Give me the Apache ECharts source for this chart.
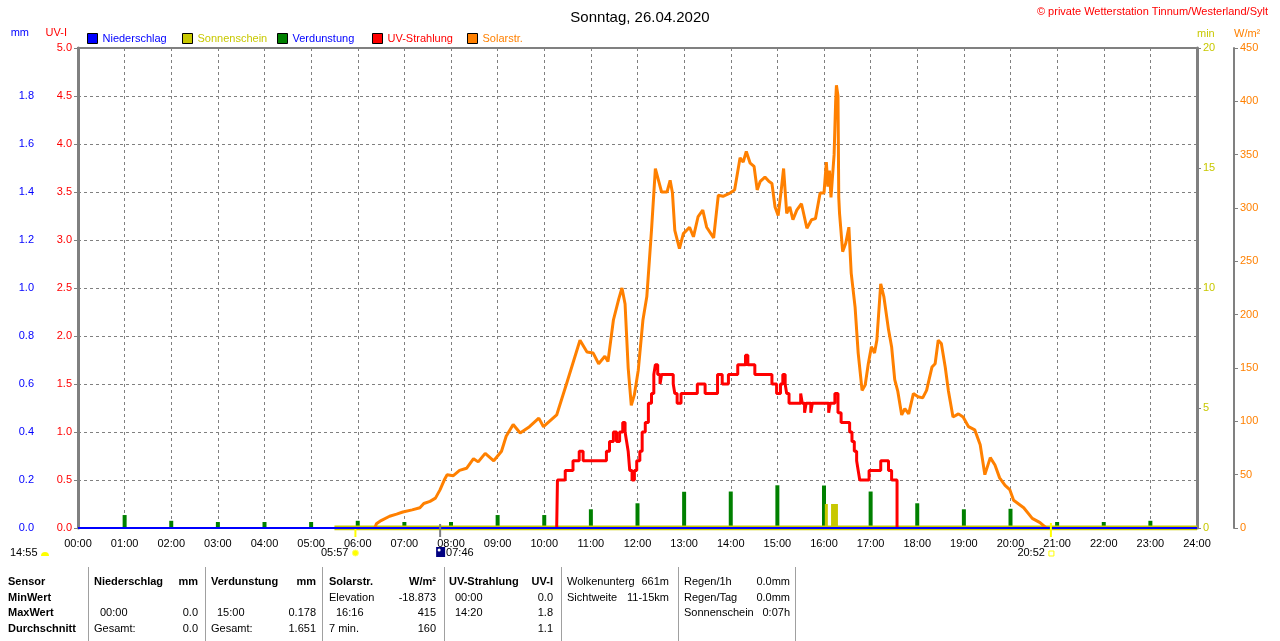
<!DOCTYPE html>
<html>
<head>
<meta charset="utf-8">
<title>Sonntag, 26.04.2020</title>
<style type="text/css">
body{margin:0;background:#fff;}
#main{width:1280px;height:641px;}
</style>
</head>
<body>
<div id="main"></div>
<script src="https://cdn.jsdelivr.net/npm/echarts@6.0.0/dist/echarts.min.js" type="text/javascript" charset="utf-8"></script>
<script type="text/javascript">
// tick labels of the time axis
var tickLabels = ['00:00','01:00','02:00','03:00','04:00','05:00','06:00','07:00','08:00','09:00','10:00','11:00','12:00',
	'13:00','14:00','15:00','16:00','17:00','18:00','19:00','20:00','21:00','22:00','23:00','24:00'];

// Solarstrahlung W/m2  [Uhrzeit, Wert]
var solarData = [
	['06:22',0],['06:24',4],['06:30',7],['06:41',11],['06:50',13],['06:58',15],['07:10',17],['07:20',19],['07:25',23],
	['07:33',25],['07:40',28],['07:46',36],['07:52',46],['07:55',50],['08:03',49],['08:11',54],['08:20',56],['08:29',65],
	['08:35',62],['08:44',70],['08:55',63],['09:05',72],['09:11',86],['09:20',97],['09:29',89],['09:41',95],['09:53',103],
	['09:59',95],['10:16',106],['10:29',136],['10:46',176],['10:55',165],['11:03',164],['11:10',154],['11:18',161],
	['11:22',156],['11:29',195],['11:36',215],['11:40',225],['11:44',210],['11:48',150],['11:52',115],['11:56',125],
	['12:01',148],['12:07',195],['12:12',217],['12:18',279],['12:23',337],['12:27',326],['12:31',315],['12:38',315],
	['12:42',326],['12:45',314],['12:48',279],['12:54',262],['12:59',276],['13:07',282],['13:12',273],['13:18',292],
	['13:24',298],['13:29',282],['13:38',272],['13:44',312],['13:50',311],['13:59',314],['14:05',317],['14:12',347],
	['14:16',343],['14:20',353],['14:25',342],['14:30',339],['14:34',317],['14:38',325],['14:44',329],['14:49',325],
	['14:53',323],['14:57',301],['15:01',293],['15:05',317],['15:08',337],['15:12',295],['15:16',301],['15:20',289],
	['15:25',298],['15:31',304],['15:38',281],['15:44',289],['15:49',290],['15:55',314],['16:00',314],['16:03',343],
	['16:05',320],['16:07',335],['16:09',310],['16:11',330],['16:13',350],['16:15',400],['16:16',415],['16:18',405],
	['16:19',310],['16:20',295],['16:24',259],['16:28',267],['16:32',282],['16:35',239],['16:40',207],['16:44',164],
	['16:49',129],['16:53',134],['16:57',154],['17:01',170],['17:05',164],['17:08',176],['17:13',229],['17:17',217],
	['17:23',186],['17:27',170],['17:31',139],['17:35',128],['17:40',106],['17:44',112],['17:49',107],['17:55',126],
	['18:01',123],['18:07',122],['18:12',129],['18:19',151],['18:23',154],['18:27',176],['18:31',173],['18:36',151],
	['18:40',129],['18:46',104],['18:53',107],['18:59',104],['19:06',95],['19:14',92],['19:21',78],['19:27',50],
	['19:34',66],['19:40',59],['19:46',47],['19:53',40],['19:59',36],['20:04',26],['20:17',19],['20:28',9],
	['20:38',5],['20:46',0]
];

// UV-Strahlung UV-I, Stufen  [ab Uhrzeit, Wert]
var uvData = [
	['10:16',0],['10:17',0.5],['10:27',0.6],['10:37',0.7],['10:45',0.8],['10:50',0.7],['11:20',0.8],['11:24',0.9],
	['11:29',1.0],['11:33',0.9],['11:37',1.0],['11:41',1.1],['11:44',1.0],['11:46',0.9],['11:48',0.8],['11:50',0.6],
	['11:53',0.5],['11:56',0.6],['11:59',0.7],['12:03',0.8],['12:06',1.0],['12:10',1.1],['12:14',1.3],['12:18',1.4],
	['12:21',1.6],['12:23',1.7],['12:26',1.6],['12:29',1.5],['12:31',1.6],['12:46',1.5],['12:48',1.4],['12:51',1.3],
	['12:56',1.4],['13:17',1.5],['13:27',1.4],['13:43',1.6],['13:49',1.5],['13:57',1.6],['14:09',1.7],['14:19',1.8],
	['14:22',1.7],['14:31',1.6],['14:53',1.5],['14:59',1.4],['15:04',1.5],['15:07',1.6],['15:10',1.5],['15:12',1.4],
	['15:15',1.3],['15:30',1.4],['15:32',1.3],['15:35',1.2],['15:37',1.3],['15:43',1.2],['15:45',1.3],['16:06',1.2],
	['16:08',1.3],['16:14',1.4],['16:18',1.2],['16:22',1.1],['16:33',1.0],['16:36',0.9],['16:39',0.8],['16:42',0.7],
	['16:44',0.6],['16:46',0.5],['16:58',0.6],['17:13',0.7],['17:23',0.6],['17:27',0.5],['17:34',0]
];

// Verdunstung mm, stuendlich
var evapHours = ['01:00','02:00','03:00','04:00','05:00','06:00','07:00','08:00','09:00','10:00','11:00','12:00',
	'13:00','14:00','15:00','16:00','17:00','18:00','19:00','20:00','21:00','22:00','23:00'];
var evapValues = [0.054,0.030,0.025,0.025,0.025,0.030,0.025,0.025,0.054,0.054,0.078,0.103,
	0.151,0.152,0.178,0.177,0.152,0.103,0.078,0.080,0.025,0.025,0.030];

// Niederschlag mm (kein Regen)
var rainTimes = ['00:00','24:00'];
var rainValues = [0, 0];

// Sonnenschein min
var sunLineTimes = ['05:30','24:00'];
var sunLineValues = [0, 0];
var sunBarTimes = ['16:03','16:11','16:12','16:13','16:14','16:15','16:16'];
var sunBarValues = [1, 1, 1, 1, 1, 1, 1];

// Mond / Sonne
var moonText = '14:55';
var sunriseTime = '05:57';
var moonTime = '07:46';
var sunsetTime = '20:52';

function toHours(s){
	var p = s.split(':');
	return Number(p[0]) + Number(p[1]) / 60;
}
function fromPairs(list){
	return list.map(function(d){ return [toHours(d[0]), d[1]]; });
}
function zip(times, values){
	return times.map(function(t, i){ return [toHours(t), values[i]]; });
}

var FONT = 'Liberation Sans';
var GRAY = '#808080';
var BLUE = '#0000ff', OLIVE = '#c8c800', GREEN = '#008000', RED = '#ff0000', ORANGE = '#ff8000';

var chartDom = document.getElementById('main');
var myChart = echarts.init(chartDom);

function legendAt(name, left, iconColor, textColor){
	return {
		data: [name], left: left, top: 33, padding: 0, itemWidth: 10, itemHeight: 10, icon: 'rect',
		itemStyle: {color: iconColor, borderColor: '#000', borderWidth: 1},
		textStyle: {color: textColor, fontSize: 11, fontFamily: FONT}
	};
}

var option = {
	animation: false,
	textStyle: {fontFamily: FONT},
	title: {
		text: 'Sonntag, 26.04.2020', left: 'center', top: 5,
		textStyle: {fontSize: 15, fontWeight: 'normal', color: '#000', fontFamily: FONT}
	},
	legend: [
		legendAt('Niederschlag', 87, BLUE, BLUE),
		legendAt('Sonnenschein', 182, OLIVE, OLIVE),
		legendAt('Verdunstung', 277, GREEN, BLUE),
		legendAt('UV-Strahlung', 372, RED, RED),
		legendAt('Solarstr.', 467, ORANGE, ORANGE)
	],
	grid: {
		left: 78, right: 83, top: 48, bottom: 113,
		show: true, borderColor: GRAY, borderWidth: 2, outerBoundsMode: 'none'
	},
	xAxis: [{
		type: 'value', min: 0, max: 24, interval: 1,
		axisLine: {lineStyle: {color: GRAY, width: 2}},
		axisTick: {show: false},
		axisLabel: {
			color: '#000', fontSize: 11, margin: 10,
			formatter: function(v){ return tickLabels[v]; }
		},
		splitLine: {show: true, lineStyle: {color: GRAY, type: [3, 3], width: 1}}
	}, {
		type: 'value', min: 0, max: 24, show: false
	}],
	yAxis: [{
		// mm
		type: 'value', min: 0, max: 2, interval: 0.2, position: 'left', offset: 37,
		axisLine: {show: true, lineStyle: {color: GRAY, width: 2}},
		axisTick: {show: true, length: 4, lineStyle: {color: GRAY}},
		axisLabel: {color: BLUE, fontSize: 11, margin: 7, showMaxLabel: false,
			formatter: function(v){ return v.toFixed(1); }},
		splitLine: {show: false}
	}, {
		// UV-I
		type: 'value', min: 0, max: 5, interval: 0.5, position: 'left', offset: 0,
		axisLine: {show: true, lineStyle: {color: GRAY, width: 3}},
		axisTick: {show: true, length: 4, lineStyle: {color: GRAY}},
		axisLabel: {color: RED, fontSize: 11, margin: 6,
			formatter: function(v){ return v.toFixed(1); }},
		splitLine: {show: true, lineStyle: {color: GRAY, type: [3, 3], width: 1}}
	}, {
		// min
		type: 'value', min: 0, max: 20, interval: 5, position: 'right', offset: 0,
		name: 'min', nameLocation: 'end', nameGap: 9,
		nameTextStyle: {color: OLIVE, fontSize: 11, align: 'left', verticalAlign: 'bottom'},
		axisLine: {show: true, lineStyle: {color: GRAY, width: 3}},
		axisTick: {show: true, length: 4, lineStyle: {color: GRAY}},
		axisLabel: {color: OLIVE, fontSize: 11, margin: 6},
		splitLine: {show: false}
	}, {
		// W/m2
		type: 'value', min: 0, max: 450, interval: 50, position: 'right', offset: 37,
		name: 'W/m²', nameLocation: 'end', nameGap: 9,
		nameTextStyle: {color: ORANGE, fontSize: 11, align: 'left', verticalAlign: 'bottom'},
		axisLine: {show: true, lineStyle: {color: GRAY, width: 2}},
		axisTick: {show: true, length: 4, lineStyle: {color: GRAY}},
		axisLabel: {color: ORANGE, fontSize: 11, margin: 6},
		splitLine: {show: false}
	}],
	series: [{
		name: 'Sonnenschein', type: 'line', yAxisIndex: 2,
		data: zip(sunLineTimes, sunLineValues),
		symbol: 'none', lineStyle: {color: OLIVE, width: 5}, itemStyle: {color: OLIVE}
	}, {
		name: 'Verdunstung', type: 'bar', yAxisIndex: 0, barWidth: 4,
		data: zip(evapHours, evapValues),
		itemStyle: {color: GREEN}
	}, {
		name: 'Sonnenschein', type: 'bar', xAxisIndex: 1, yAxisIndex: 2, barWidth: 3,
		data: zip(sunBarTimes, sunBarValues),
		itemStyle: {color: OLIVE}
	}, {
		name: 'Solarstr.', type: 'line', yAxisIndex: 3,
		data: fromPairs(solarData),
		symbol: 'none', lineStyle: {color: ORANGE, width: 3}, itemStyle: {color: ORANGE}
	}, {
		name: 'UV-Strahlung', type: 'line', yAxisIndex: 1, step: 'end',
		data: fromPairs(uvData),
		symbol: 'none', lineStyle: {color: RED, width: 3}, itemStyle: {color: RED}
	}, {
		name: 'Niederschlag', type: 'line', yAxisIndex: 0,
		data: zip(rainTimes, rainValues),
		symbol: 'none', lineStyle: {color: BLUE, width: 2}, itemStyle: {color: BLUE}
	}]
};

myChart.setOption(option);

// Texte, Tabelle und Markierungen unter dem Diagramm
var g = [];
function txt(s, x, y, opt){
	opt = opt || {};
	g.push({
		type: 'text', x: x, y: y, z: 50,
		style: {
			text: s, fill: opt.color || '#000', align: opt.align || 'left', verticalAlign: 'middle',
			font: (opt.bold ? 'bold ' : '') + (opt.size || 11) + 'px "' + FONT + '"'
		}
	});
}
function vline(x, y1, y2, color, w){
	g.push({type: 'line', z: 50, shape: {x1: x, y1: y1, x2: x, y2: y2}, style: {stroke: color, lineWidth: w}});
}

txt('© private Wetterstation Tinnum/Westerland/Sylt', 1268, 12, {color: RED, align: 'right'});

// Einheiten der linken Achsen
txt('mm', 29, 33, {color: BLUE, align: 'right'});
txt('UV-I', 67, 33, {color: RED, align: 'right'});

var xRise = myChart.convertToPixel({xAxisIndex: 0}, toHours(sunriseTime));
var xMoon = myChart.convertToPixel({xAxisIndex: 0}, toHours(moonTime));
var xSet = myChart.convertToPixel({xAxisIndex: 0}, toHours(sunsetTime));

vline(xRise, 529, 537, '#ffff00', 2);
vline(xMoon, 524, 537, GRAY, 2);
vline(xSet, 523, 537, '#ffff00', 2);

txt(moonText, 10, 553);
g.push({type: 'sector', z: 50, shape: {cx: 45, cy: 556, r: 4, startAngle: Math.PI, endAngle: 2 * Math.PI},
	style: {fill: '#ffff00'}});
txt(sunriseTime, xRise - 7, 553, {align: 'right'});
g.push({type: 'circle', z: 50, shape: {cx: xRise, cy: 553, r: 3}, style: {fill: '#ffff00', stroke: '#ffff66', lineWidth: 1}});
g.push({type: 'rect', z: 50, shape: {x: xMoon - 4, y: 547, width: 9, height: 10}, style: {fill: '#000080'}});
g.push({type: 'circle', z: 51, shape: {cx: xMoon - 1, cy: 550, r: 1.5}, style: {fill: '#ffffff'}});
txt(moonTime, xMoon + 6, 553);
txt(sunsetTime, xSet - 6, 553, {align: 'right'});
g.push({type: 'rect', z: 50, shape: {x: xSet - 2, y: 551, width: 5, height: 5}, style: {fill: 'none', stroke: '#ffff00', lineWidth: 1}});

// Tabelle
var r0 = 582, r1 = 598, r2 = 613, r3 = 629;
[88, 205, 322, 444, 561, 678, 795].forEach(function(x){ vline(x + 0.5, 567, 641, '#a0a0a0', 1); });
txt('Sensor', 8, r0, {bold: true});
txt('MinWert', 8, r1, {bold: true});
txt('MaxWert', 8, r2, {bold: true});
txt('Durchschnitt', 8, r3, {bold: true});

txt('Niederschlag', 94, r0, {bold: true});
txt('mm', 198, r0, {bold: true, align: 'right'});
txt('00:00', 100, r2);
txt('0.0', 198, r2, {align: 'right'});
txt('Gesamt:', 94, r3);
txt('0.0', 198, r3, {align: 'right'});

txt('Verdunstung', 211, r0, {bold: true});
txt('mm', 316, r0, {bold: true, align: 'right'});
txt('15:00', 217, r2);
txt('0.178', 316, r2, {align: 'right'});
txt('Gesamt:', 211, r3);
txt('1.651', 316, r3, {align: 'right'});

txt('Solarstr.', 329, r0, {bold: true});
txt('W/m²', 436, r0, {bold: true, align: 'right'});
txt('Elevation', 329, r1);
txt('-18.873', 436, r1, {align: 'right'});
txt('16:16', 336, r2);
txt('415', 436, r2, {align: 'right'});
txt('7 min.', 329, r3);
txt('160', 436, r3, {align: 'right'});

txt('UV-Strahlung', 449, r0, {bold: true});
txt('UV-I', 553, r0, {bold: true, align: 'right'});
txt('00:00', 455, r1);
txt('0.0', 553, r1, {align: 'right'});
txt('14:20', 455, r2);
txt('1.8', 553, r2, {align: 'right'});
txt('1.1', 553, r3, {align: 'right'});

txt('Wolkenunterg', 567, r0);
txt('661m', 669, r0, {align: 'right'});
txt('Sichtweite', 567, r1);
txt('11-15km', 669, r1, {align: 'right'});

txt('Regen/1h', 684, r0);
txt('0.0mm', 790, r0, {align: 'right'});
txt('Regen/Tag', 684, r1);
txt('0.0mm', 790, r1, {align: 'right'});
txt('Sonnenschein', 684, r2);
txt('0:07h', 790, r2, {align: 'right'});

myChart.setOption({graphic: g});
</script>
</body>
</html>
